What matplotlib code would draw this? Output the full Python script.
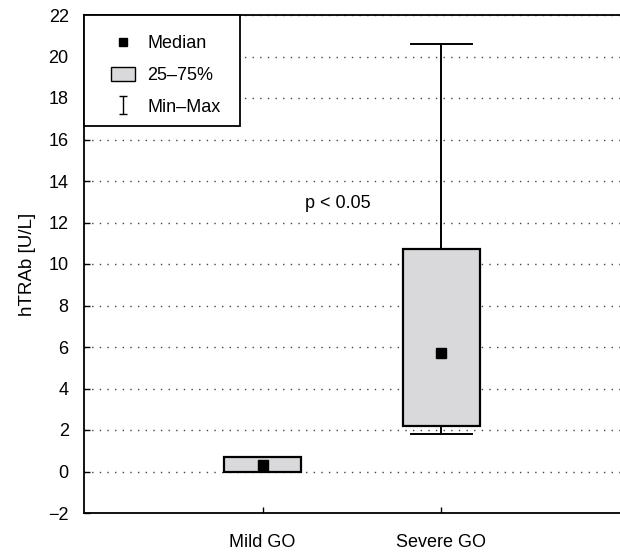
import matplotlib
matplotlib.use("Agg")
import matplotlib.pyplot as plt
from matplotlib.lines import Line2D
from matplotlib.patches import Patch, Rectangle

plt.rcParams['font.family'] = ['Liberation Sans', 'DejaVu Sans']

categories = ["Mild GO", "Severe GO"]
q1 = [0.0, 2.2]
q3 = [0.68, 10.7]
medians = [0.32, 5.73]
mins = [0.0, 1.8]
maxs = [0.68, 20.6]
yticks = list(range(-2, 23, 2))
annotation = "p < 0.05"

FS = 13

fig = plt.figure(figsize=(6.2, 5.53), dpi=100)
ax = fig.add_axes([84/620, 1-513/553, 1-84/620, (513-15)/553])

positions = [1, 2]
stats = []
for i in range(len(categories)):
    stats.append(dict(med=medians[i], q1=q1[i], q3=q3[i],
                      whislo=mins[i], whishi=maxs[i], fliers=[]))
ax.bxp(stats, positions=positions, widths=0.43, capwidths=0.34,
       patch_artist=True, showfliers=False,
       boxprops=dict(facecolor="#d9d9db", edgecolor="black", linewidth=1.6),
       whiskerprops=dict(color="black", linewidth=1.4),
       capprops=dict(color="black", linewidth=1.4),
       medianprops=dict(visible=False), zorder=3)
ax.plot(positions, medians, linestyle="none", marker="s", markersize=7.5,
        color="black", zorder=4)

ax.set_xlim(0, 3)
ax.set_ylim(-2, 22)
ax.set_yticks(yticks)
ax.set_yticklabels([f"\u2212{abs(t)}" if t < 0 else str(t) for t in yticks])
ax.set_xticks(positions)
ax.set_xticklabels(categories)
ax.tick_params(direction="in", length=4, width=1, labelsize=FS, color="black")
ax.tick_params(axis="x", pad=15)
ax.tick_params(axis="y", pad=11)
ax.yaxis.grid(True, linestyle=(0, (1, 4.5)), color="#444444", linewidth=1.0)
ax.set_axisbelow(True)
for s in ["left", "bottom", "top"]:
    ax.spines[s].set_linewidth(1.3)
ax.spines["right"].set_visible(False)
ax.set_ylabel("hTRAb [U/L]", fontsize=13.5, labelpad=9)

ax.text(1.42, 12.9, annotation, fontsize=FS, ha="center", va="center")

# legend frame
W, H = 536.0, 498.0
frame = Rectangle((0, (513-126)/H), (240-84)/W, 1 - (513-126)/H,
                  transform=ax.transAxes, facecolor="white", edgecolor="black",
                  linewidth=1.3, zorder=5, clip_on=False)
ax.add_patch(frame)

eb = ax.errorbar([-5], [-5], yerr=[[1], [1]], fmt="none", ecolor="black",
                 elinewidth=1.0, capsize=3, capthick=1.0)
handles = [
    Line2D([], [], linestyle="none", marker="s", markersize=5.5, color="black"),
    Patch(facecolor="#d9d9db", edgecolor="black", linewidth=1.0),
    eb,
]
leg = ax.legend(handles, ["Median", "25\u201375%", "Min\u2013Max"],
                loc="upper left", bbox_to_anchor=((111-84)/W, (513-35)/H),
                borderaxespad=0, borderpad=0, frameon=False,
                fontsize=FS, labelspacing=0.78,
                handlelength=1.35, handleheight=0.85, handletextpad=0.65)
leg.set_zorder(6)

fig.savefig("out.png", dpi=100)
